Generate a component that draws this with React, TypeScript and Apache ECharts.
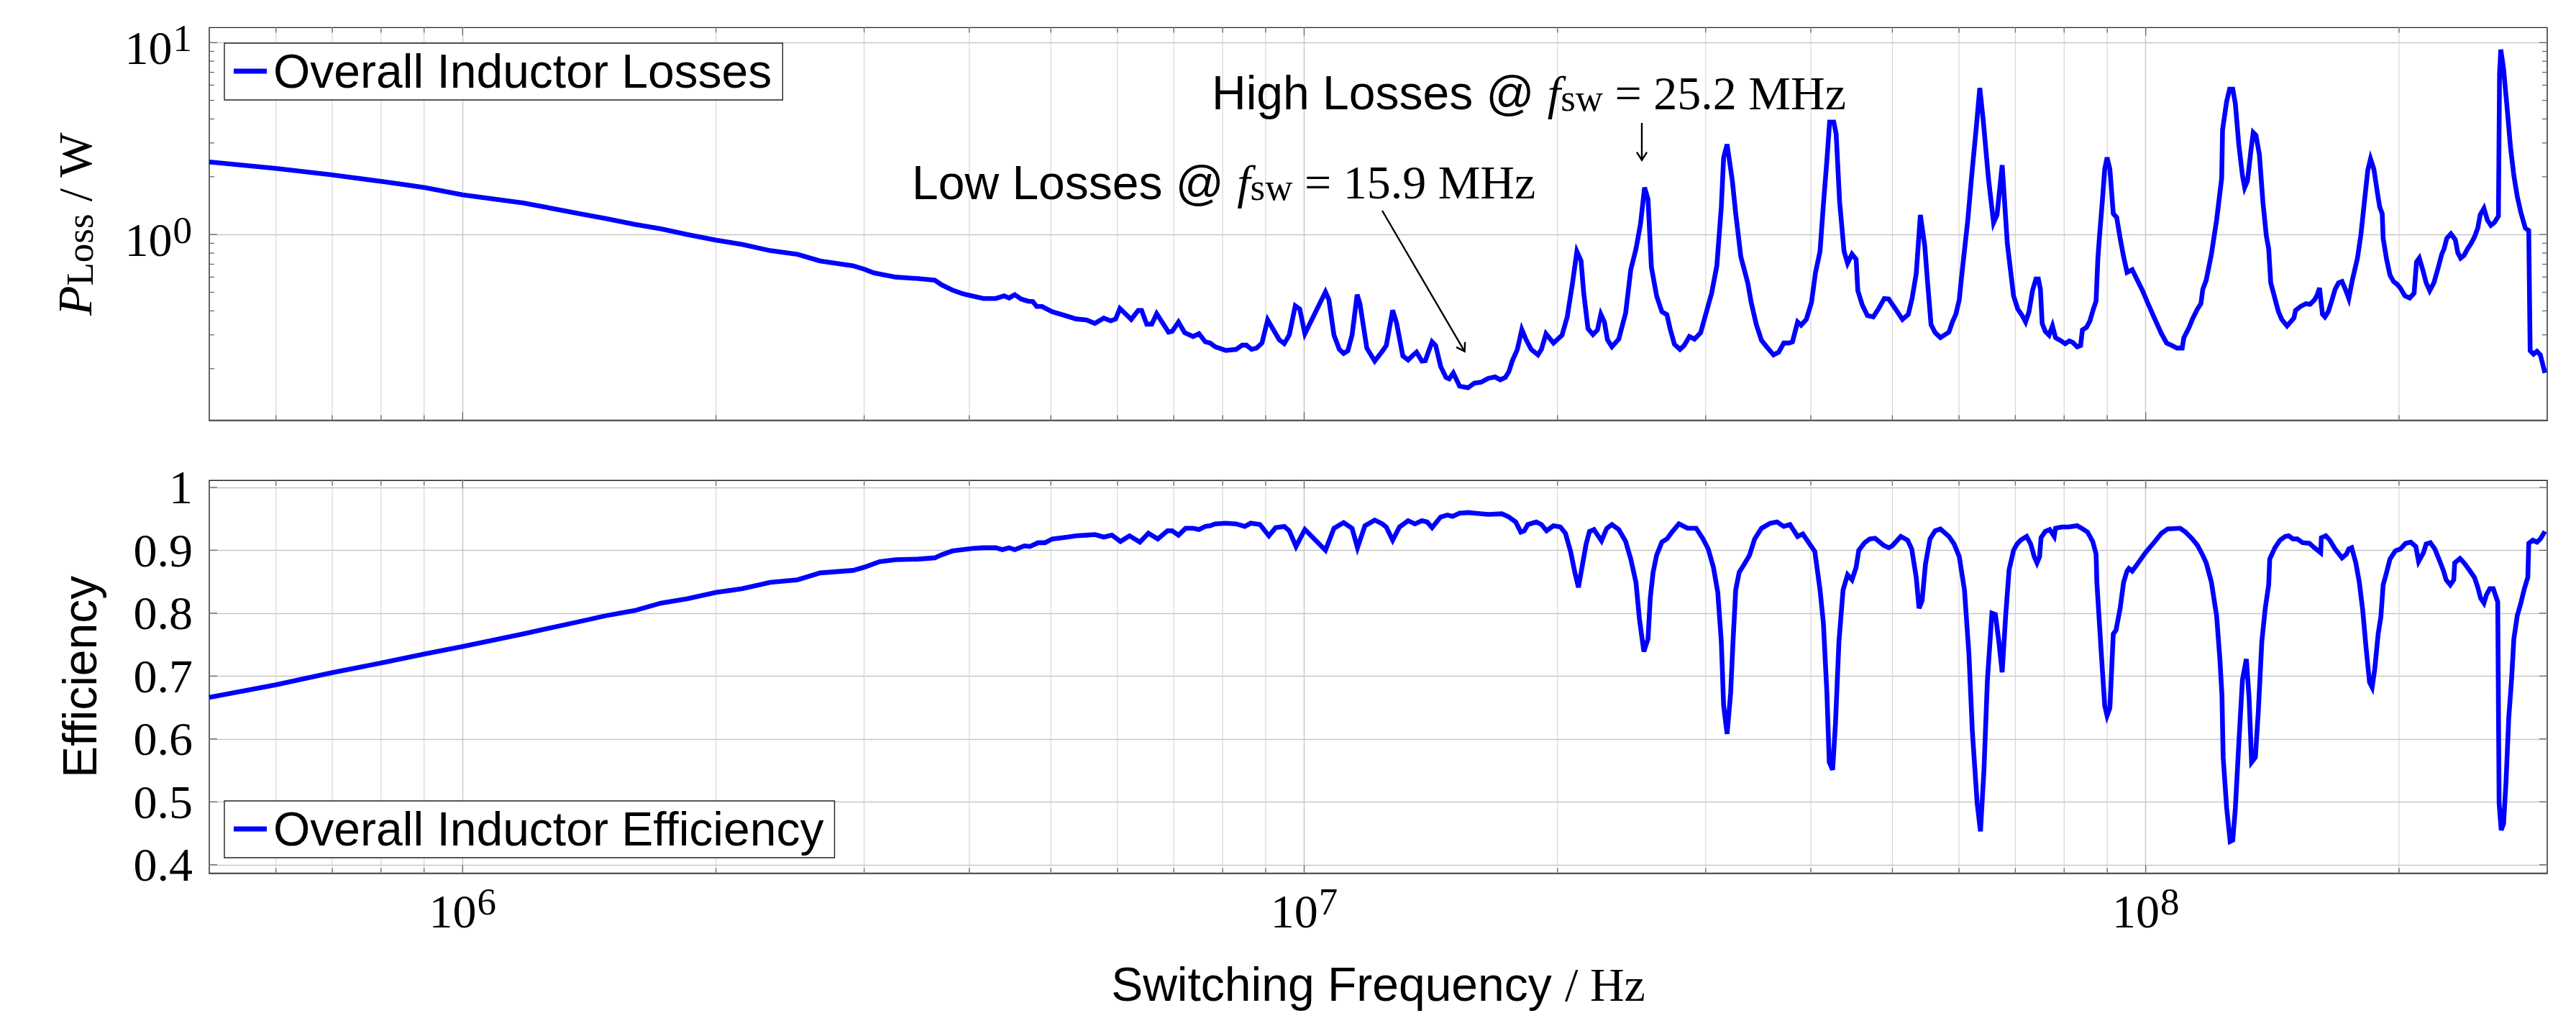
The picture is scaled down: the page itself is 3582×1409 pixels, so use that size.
import React, { useEffect, useRef } from 'react';
import * as echarts from 'echarts';

const SANS = '"Liberation Sans", Arial, Helvetica, sans-serif';
const SERIF = '"Liberation Serif", "Times New Roman", serif';

// ---------------- data (frequency in MHz) ----------------
const lossData: [number, number][] = [
  [0.500,2.39],[0.600,2.21],[0.697,2.05],[0.809,1.88],[0.900,1.76],[1.00,1.61],[1.18,1.46],[1.37,1.29],[1.48,1.21],[1.60,1.13],
  [1.72,1.07],[1.85,1.00],[2.00,0.934],[2.15,0.888],[2.32,0.824],[2.50,0.788],[2.66,0.728],[2.91,0.687],[3.00,0.66],[3.08,0.631],
  [3.27,0.600],[3.48,0.589],[3.64,0.578],[3.71,0.546],[3.82,0.513],[3.93,0.491],[4.00,0.482],[4.16,0.464],[4.30,0.464],[4.40,0.479],
  [4.46,0.467],[4.53,0.486],[4.61,0.461],[4.70,0.449],[4.76,0.447],[4.81,0.422],[4.88,0.422],[5.02,0.396],[5.16,0.382],[5.36,0.363],
  [5.51,0.359],[5.64,0.344],[5.78,0.367],[5.89,0.355],[5.97,0.363],[6.04,0.412],[6.23,0.361],[6.35,0.402],[6.41,0.402],[6.50,0.341],
  [6.59,0.341],[6.68,0.387],[6.90,0.310],[6.97,0.313],[7.09,0.350],[7.21,0.308],[7.38,0.294],[7.50,0.304],[7.63,0.276],[7.73,0.272],
  [7.84,0.260],[8.07,0.249],[8.30,0.252],[8.44,0.265],[8.54,0.265],[8.66,0.252],[8.78,0.256],[8.91,0.272],[9.05,0.359],[9.34,0.283],
  [9.47,0.270],[9.60,0.299],[9.76,0.425],[9.88,0.409],[10.02,0.304],[10.60,0.502],[10.70,0.457],[10.85,0.299],[11.01,0.252],[11.14,0.240],
  [11.27,0.248],[11.40,0.299],[11.56,0.486],[11.65,0.435],[11.87,0.256],[12.13,0.219],[12.38,0.246],[12.52,0.264],[12.74,0.403],[12.88,0.344],
  [13.10,0.233],[13.29,0.222],[13.48,0.236],[13.60,0.244],[13.80,0.219],[13.93,0.220],[14.19,0.276],[14.33,0.264],[14.53,0.205],[14.74,0.180],
  [14.87,0.177],[15.04,0.190],[15.30,0.162],[15.66,0.159],[15.93,0.168],[16.23,0.170],[16.54,0.178],[16.86,0.181],[17.10,0.175],[17.34,0.180],
  [17.51,0.193],[17.67,0.219],[17.92,0.252],[18.14,0.320],[18.34,0.285],[18.61,0.252],[18.96,0.236],[19.14,0.252],[19.38,0.304],[19.78,0.272],
  [20.25,0.299],[20.54,0.372],[20.83,0.551],[21.09,0.816],[21.33,0.731],[21.49,0.494],[21.74,0.323],[22.04,0.301],[22.31,0.318],[22.52,0.384],
  [22.74,0.350],[22.93,0.283],[23.21,0.260],[23.65,0.285],[24.10,0.390],[24.44,0.655],[24.79,0.841],[25.10,1.134],[25.38,1.758],[25.62,1.527],
  [25.86,0.676],[26.23,0.479],[26.61,0.396],[26.98,0.382],[27.24,0.318],[27.54,0.268],[27.96,0.252],[28.28,0.264],[28.69,0.294],[29.09,0.285],
  [29.59,0.308],[29.92,0.367],[30.49,0.494],[30.93,0.687],[31.31,1.390],[31.51,2.52],[31.81,2.95],[32.27,1.902],[32.57,1.285],[33.03,0.766],
  [33.66,0.560],[33.98,0.442],[34.46,0.339],[34.95,0.281],[35.45,0.260],[36.12,0.236],[36.64,0.244],[37.15,0.272],[37.68,0.272],[38.04,0.276],
  [38.58,0.350],[38.95,0.337],[39.51,0.361],[40.07,0.442],[40.52,0.635],[41.02,0.816],[41.40,1.434],[41.80,2.44],[42.11,3.85],[42.59,3.85],
  [42.87,3.35],[43.28,1.480],[43.81,0.816],[44.23,0.708],[44.77,0.790],[45.28,0.742],[45.49,0.510],[46.05,0.429],[46.70,0.378],[47.45,0.372],
  [48.12,0.409],[48.90,0.464],[49.50,0.461],[50.44,0.409],[51.40,0.361],[52.23,0.384],[52.77,0.464],[53.37,0.625],[53.98,1.265],[54.64,0.868],
  [55.06,0.560],[55.58,0.339],[56.21,0.308],[57.02,0.290],[58.37,0.310],[58.92,0.350],[59.48,0.384],[60.04,0.457],[60.50,0.635],[61.46,1.188],
  [62.16,2.09],[62.92,3.67],[63.51,5.80],[64.12,3.91],[65.03,1.963],[65.95,1.152],[66.58,1.265],[67.52,2.30],[68.48,0.896],[69.66,0.479],
  [70.46,0.409],[71.32,0.378],[71.99,0.350],[72.67,0.396],[73.36,0.510],[74.06,0.587],[74.55,0.587],[74.97,0.518],[75.33,0.344],[75.97,0.313],
  [76.76,0.299],[77.48,0.334],[78.13,0.290],[79.10,0.281],[80.22,0.270],[81.13,0.279],[81.90,0.274],[82.91,0.260],[83.69,0.264],[84.09,0.318],
  [85.04,0.328],[85.85,0.355],[86.66,0.409],[87.30,0.449],[87.72,0.742],[88.13,0.984],[88.80,1.480],[89.39,2.19],[89.97,2.52],[90.66,2.19],
  [91.51,1.285],[92.37,1.226],[93.25,0.954],[94.13,0.766],[95.02,0.635],[96.38,0.655],[97.75,0.578],[99.13,0.510],[100.5,0.442],[102.4,0.367],
  [104.4,0.304],[105.9,0.272],[107.4,0.264],[108.9,0.256],[110.5,0.256],[111.0,0.290],[112.6,0.328],[113.6,0.361],[115.2,0.409],[116.3,0.436],
  [116.9,0.518],[118.0,0.578],[119.7,0.790],[121.4,1.188],[123.1,1.963],[123.4,3.51],[124.8,4.95],[125.8,5.72],[126.9,5.72],[127.8,4.80],
  [129.0,2.95],[130.3,2.03],[131.1,1.758],[132.1,1.902],[133.4,2.77],[134.2,3.40],[135.2,3.29],[136.5,2.60],[137.8,1.480],[139.1,0.984],
  [140.0,0.841],[140.8,0.560],[142.4,0.464],[143.8,0.396],[145.1,0.361],[147.2,0.334],[148.6,0.350],[150.0,0.367],[150.7,0.403],[152.8,0.422],
  [155.0,0.436],[156.8,0.433],[158.7,0.457],[159.7,0.479],[160.9,0.526],[162.2,0.384],[163.3,0.372],[164.8,0.396],[166.3,0.449],[167.9,0.518],
  [169.5,0.560],[171.1,0.569],[172.7,0.518],[174.3,0.464],[176.0,0.578],[178.5,0.754],[180.2,1.0],[181.9,1.480],[183.6,2.16],[185.0,2.48],
  [186.7,2.19],[188.5,1.652],[189.7,1.390],[191.0,1.285],[191.5,0.954],[193.3,0.742],[195.1,0.615],[197.0,0.569],[198.9,0.551],[200.7,0.526],
  [203.2,0.479],[205.9,0.467],[208.4,0.494],[209.8,0.719],[211.4,0.754],[213.4,0.655],[215.4,0.560],[217.5,0.510],[220.0,0.560],[222.7,0.676],
  [224.8,0.790],[226.2,0.841],[227.9,0.954],[230.5,1.009],[233.3,0.939],[234.9,0.803],[236.7,0.754],[238.9,0.778],[241.2,0.841],[243.5,0.896],
  [245.8,0.969],[248.1,1.081],[249.7,1.265],[252.3,1.368],[254.7,1.188],[257.1,1.116],[259.5,1.152],[262.5,1.245],[263.3,6.88],[264.2,9.2],
  [266.2,7.32],[268.8,4.58],[271.3,2.86],[273.8,2.03],[276.4,1.576],[279.1,1.305],[282.5,1.081],[285.2,1.048],[286.3,0.248],[289.0,0.238],
  [291.7,0.246],[294.4,0.236],[298.1,0.190],
];

const effData: [number, number][] = [
  [0.500,0.666],[0.600,0.686],[0.697,0.705],[0.809,0.722],[0.900,0.735],[1.00,0.747],[1.18,0.767],[1.37,0.786],[1.48,0.796],[1.60,0.804],
  [1.72,0.816],[1.85,0.823],[2.00,0.833],[2.15,0.839],[2.32,0.849],[2.50,0.853],[2.66,0.864],[2.91,0.868],[3.00,0.873],[3.13,0.882],
  [3.27,0.885],[3.48,0.886],[3.64,0.888],[3.71,0.893],[3.82,0.899],[3.93,0.901],[4.04,0.903],[4.16,0.904],[4.30,0.904],[4.38,0.901],
  [4.46,0.904],[4.53,0.901],[4.65,0.907],[4.72,0.906],[4.83,0.912],[4.92,0.912],[5.02,0.918],[5.16,0.920],[5.36,0.923],[5.51,0.924],
  [5.64,0.925],[5.78,0.921],[5.91,0.924],[6.05,0.914],[6.20,0.923],[6.38,0.913],[6.53,0.927],[6.70,0.918],[6.88,0.931],[6.97,0.931],
  [7.09,0.924],[7.23,0.935],[7.38,0.935],[7.50,0.933],[7.63,0.938],[7.73,0.939],[7.84,0.942],[8.07,0.943],[8.30,0.942],[8.50,0.938],
  [8.64,0.943],[8.86,0.941],[9.08,0.923],[9.25,0.936],[9.47,0.938],[9.60,0.931],[9.78,0.906],[10.02,0.933],[10.60,0.900],[10.85,0.935],
  [11.14,0.944],[11.40,0.935],[11.57,0.904],[11.81,0.939],[12.13,0.948],[12.38,0.942],[12.52,0.937],[12.74,0.916],[12.98,0.937],[13.29,0.947],
  [13.54,0.942],[13.80,0.947],[14.00,0.945],[14.19,0.936],[14.53,0.953],[14.80,0.956],[15.01,0.954],[15.30,0.959],[15.66,0.960],[15.93,0.959],
  [16.54,0.957],[17.18,0.958],[17.51,0.953],[17.84,0.945],[18.09,0.929],[18.26,0.931],[18.44,0.941],[18.87,0.945],[19.14,0.941],[19.41,0.931],
  [19.78,0.939],[20.16,0.937],[20.44,0.927],[20.73,0.898],[20.97,0.865],[21.18,0.841],[21.42,0.878],[21.63,0.910],[21.83,0.930],[22.10,0.933],
  [22.56,0.915],[22.89,0.935],[23.21,0.941],[23.65,0.933],[24.10,0.914],[24.44,0.886],[24.79,0.849],[25.02,0.792],[25.33,0.739],[25.62,0.759],
  [25.78,0.824],[25.98,0.865],[26.23,0.892],[26.61,0.913],[26.98,0.918],[27.36,0.929],[27.88,0.942],[28.55,0.935],[29.23,0.935],[29.79,0.918],
  [30.21,0.902],[30.64,0.873],[31.01,0.833],[31.31,0.755],[31.51,0.653],[31.81,0.608],[32.12,0.673],[32.33,0.755],[32.57,0.837],[32.88,0.865],
  [33.34,0.878],[33.82,0.892],[34.30,0.918],[34.95,0.935],[35.78,0.943],[36.46,0.945],[37.15,0.938],[37.78,0.941],[38.58,0.922],[39.13,0.926],
  [39.87,0.910],[40.44,0.898],[41.02,0.837],[41.40,0.784],[41.80,0.673],[42.07,0.563],[42.46,0.551],[42.79,0.624],[43.20,0.755],[43.69,0.837],
  [44.23,0.861],[44.77,0.853],[45.28,0.873],[45.61,0.900],[46.34,0.912],[47.00,0.918],[47.68,0.919],[48.81,0.908],[49.50,0.904],[49.97,0.907],
  [51.16,0.922],[52.13,0.916],[52.72,0.902],[53.37,0.857],[53.78,0.808],[54.24,0.820],[54.74,0.878],[55.42,0.918],[56.21,0.931],[57.02,0.934],
  [58.37,0.922],[59.20,0.910],[60.04,0.890],[60.90,0.837],[61.65,0.735],[62.23,0.612],[63.05,0.498],[63.63,0.453],[64.24,0.551],[64.85,0.694],
  [65.65,0.800],[66.28,0.798],[66.91,0.755],[67.52,0.706],[68.17,0.796],[68.81,0.869],[69.66,0.900],[70.33,0.910],[71.00,0.916],[72.20,0.922],
  [73.00,0.910],[73.70,0.890],[74.27,0.880],[74.80,0.890],[75.10,0.920],[75.97,0.930],[76.90,0.933],[77.85,0.922],[78.13,0.935],[79.46,0.937],
  [80.97,0.937],[82.91,0.939],[83.92,0.935],[85.28,0.929],[86.50,0.914],[87.30,0.894],[87.49,0.849],[88.57,0.735],[89.39,0.653],[89.97,0.637],
  [90.66,0.649],[91.51,0.767],[92.20,0.773],[93.25,0.808],[94.13,0.849],[95.02,0.867],[95.50,0.871],[96.38,0.867],[97.75,0.878],[99.90,0.896],
  [102.4,0.913],[104.4,0.927],[106.2,0.934],[109.9,0.935],[111.5,0.929],[113.6,0.918],[115.2,0.908],[116.7,0.894],[118.0,0.880],[119.7,0.849],
  [121.4,0.796],[122.5,0.727],[123.2,0.669],[123.6,0.571],[124.8,0.490],[126.0,0.437],[126.9,0.439],[127.8,0.490],[129.0,0.592],[130.3,0.694],
  [131.7,0.727],[132.7,0.665],[133.6,0.563],[135.0,0.571],[136.1,0.645],[137.4,0.755],[138.7,0.808],[140.0,0.845],[140.4,0.886],[142.4,0.904],
  [144.4,0.916],[146.5,0.922],[147.9,0.923],[149.6,0.918],[151.4,0.918],[153.6,0.912],[156.5,0.911],[158.7,0.904],[161.4,0.896],[161.7,0.920],
  [163.7,0.923],[165.5,0.916],[167.9,0.902],[171.1,0.888],[173.2,0.894],[174.3,0.902],[175.7,0.904],[177.7,0.880],[179.4,0.849],[181.1,0.804],
  [182.8,0.743],[184.5,0.690],[185.8,0.682],[187.1,0.710],[188.9,0.767],[190.3,0.794],[191.5,0.845],[193.3,0.865],[195.1,0.886],[198.0,0.899],
  [200.7,0.902],[203.6,0.911],[206.5,0.913],[209.4,0.906],[211.0,0.882],[213.8,0.896],[215.4,0.910],[217.9,0.912],[220.6,0.902],[223.7,0.882],
  [225.9,0.867],[227.5,0.853],[230.1,0.845],[232.3,0.853],[232.9,0.880],[236.3,0.887],[238.9,0.880],[242.3,0.869],[245.8,0.857],[248.1,0.841],
  [250.0,0.824],[252.3,0.816],[254.0,0.829],[256.4,0.839],[258.8,0.839],[262.0,0.818],[262.5,0.653],[263.0,0.498],[264.5,0.455],[266.2,0.465],
  [268.0,0.531],[270.0,0.633],[272.1,0.694],[273.8,0.759],[276.4,0.796],[279.1,0.816],[281.8,0.839],[284.5,0.857],[285.2,0.911],[288.4,0.916],
  [291.7,0.913],[294.4,0.918],[298.1,0.930],
];

// axis ranges and tick positions
const X_RANGE = [5e5, 3e8];
const LOSS_RANGE = [0.1078, 11.97];
const EFF_RANGE = [0.3867, 1.011];
const xMajorFreqs = [1e6, 1e7, 1e8];
const xMinorFreqs = [6e5, 7e5, 8e5, 9e5, 2e6, 3e6, 4e6, 5e6, 6e6, 7e6, 8e6, 9e6, 2e7, 3e7, 4e7, 5e7, 6e7, 7e7, 8e7, 9e7, 2e8];
const lossMajorTicks = [1, 10];
const lossMinorTicks = [0.2, 0.3, 0.4, 0.5, 0.6, 0.7, 0.8, 0.9, 2, 3, 4, 5, 6, 7, 8, 9];
const effTicks = [0.4, 0.5, 0.6, 0.7, 0.8, 0.9, 1.0];

const LEGEND_LOSS = 'Overall Inductor Losses';
const LEGEND_EFF = 'Overall Inductor Efficiency';

const BLUE = '#0000ff';
const LINE_W = 6.6;
const MAJOR_GRID = '#c6c6c6';
const MINOR_GRID = '#d3d3d3';
const TICK = '#6a6a6a';

const powRich = {
  b: { fontFamily: SERIF, fontSize: 66, lineHeight: 66, color: '#000', padding: [14, 0, 0, 0] },
  s: { fontFamily: SERIF, fontSize: 53, lineHeight: 54, color: '#000', verticalAlign: 'top', padding: [0, 0, 0, 1] },
};
const powLabel = (v: number) => {
  const e = Math.log10(v);
  const r = Math.round(e);
  if (Math.abs(e - r) > 1e-6) return '';
  return `{b|10}{s|${r}}`;
};

function makeXGrid(idx: number, yr: number[]) {
  return {
    type: 'custom', xAxisIndex: idx, yAxisIndex: idx, silent: true, z: 1,
    data: [...xMajorFreqs.map((f) => [f, yr[0], 1]), ...xMinorFreqs.map((f) => [f, yr[0], 0])],
    encode: { x: 0, y: 1 },
    renderItem: (params: any, api: any) => {
      const f = api.value(0);
      const major = api.value(2) === 1;
      const top = api.coord([f, yr[1]]);
      const bot = api.coord([f, yr[0]]);
      const len = major ? 11 : 7;
      const children: any[] = [];
      if (!major) {
        children.push({ type: 'line', shape: { x1: top[0], y1: top[1], x2: bot[0], y2: bot[1] }, style: { stroke: MINOR_GRID, lineWidth: 1.1 } });
      }
      children.push({ type: 'line', shape: { x1: top[0], y1: top[1], x2: top[0], y2: top[1] + len }, style: { stroke: TICK, lineWidth: 1.3 } });
      children.push({ type: 'line', shape: { x1: bot[0], y1: bot[1] - len, x2: bot[0], y2: bot[1] }, style: { stroke: TICK, lineWidth: 1.3 } });
      return { type: 'group', children };
    },
  };
}

function makeYTicks(idx: number, majors: number[], minors: number[]) {
  return {
    type: 'custom', xAxisIndex: idx, yAxisIndex: idx, silent: true, z: 1,
    data: [...majors.map((v) => [X_RANGE[0], v, 1]), ...minors.map((v) => [X_RANGE[0], v, 0])],
    encode: { x: 0, y: 1 },
    renderItem: (params: any, api: any) => {
      const v = api.value(1);
      const major = api.value(2) === 1;
      const l = api.coord([X_RANGE[0], v]);
      const r = api.coord([X_RANGE[1], v]);
      const len = major ? 11 : 7;
      return {
        type: 'group',
        children: [
          { type: 'line', shape: { x1: l[0], y1: l[1], x2: l[0] + len, y2: l[1] }, style: { stroke: TICK, lineWidth: 1.3 } },
          { type: 'line', shape: { x1: r[0] - len, y1: r[1], x2: r[0], y2: r[1] }, style: { stroke: TICK, lineWidth: 1.3 } },
        ],
      };
    },
  };
}

function arrow(x1: number, y1: number, x2: number, y2: number) {
  const dx = x2 - x1, dy = y2 - y1;
  const L = Math.hypot(dx, dy);
  const ux = dx / L, uy = dy / L;
  const hl = 11, hw = 7;
  return [
    { type: 'line', shape: { x1, y1, x2, y2 }, style: { stroke: '#000', lineWidth: 2.4 }, z: 50 },
    {
      type: 'polyline', z: 50,
      shape: { points: [[x2 - hl * ux - hw * uy, y2 - hl * uy + hw * ux], [x2, y2], [x2 - hl * ux + hw * uy, y2 - hl * uy - hw * ux]] },
      style: { stroke: '#000', lineWidth: 2.4, fill: 'none' },
    },
  ];
}

const annRich = {
  t: { fontFamily: SANS, fontSize: 66, lineHeight: 66 },
  i: { fontFamily: SERIF, fontStyle: 'italic', fontSize: 66, lineHeight: 66 },
  sub: { fontFamily: SERIF, fontSize: 53, lineHeight: 38, verticalAlign: 'bottom' },
  m: { fontFamily: SERIF, fontSize: 66, lineHeight: 66 },
};

const legendCommon = {
  selectedMode: false,
  backgroundColor: '#fff',
  borderColor: '#222',
  borderWidth: 1.4,
  borderRadius: 0,
  padding: [6, 15, 7, 13],
  icon: 'rect',
  itemWidth: 46,
  itemHeight: 7,
  itemStyle: { color: BLUE, borderWidth: 0 },
  textStyle: { fontFamily: SANS, fontSize: 66, lineHeight: 66, color: '#000', padding: [0, 0, 0, 4] },
};

const xAxisCommon = {
  type: 'log',
  logBase: 10,
  min: X_RANGE[0],
  max: X_RANGE[1],
  axisTick: { show: false },
  axisLine: { show: true, onZero: false, lineStyle: { color: '#555', width: 2.2 } },
  splitLine: { show: true, showMinLine: false, showMaxLine: false, interval: 0, lineStyle: { color: MAJOR_GRID, width: 1.4 } },
  minorSplitLine: { show: false },
};

const option: any = {
  animation: false,
  backgroundColor: '#fff',
  grid: [
    { left: 291, width: 3251, top: 38.4, height: 546, show: true, borderColor: '#222', borderWidth: 1.4, backgroundColor: 'transparent', outerBoundsMode: 'none', containLabel: false },
    { left: 291, width: 3251, top: 668.3, height: 546.1, show: true, borderColor: '#222', borderWidth: 1.4, backgroundColor: 'transparent', outerBoundsMode: 'none', containLabel: false },
  ],
  legend: [
    { ...legendCommon, data: [LEGEND_LOSS], left: 312, top: 60 },
    { ...legendCommon, data: [LEGEND_EFF], left: 312, top: 1114 },
  ],
  xAxis: [
    { ...xAxisCommon, gridIndex: 0, axisLabel: { show: false } },
    {
      ...xAxisCommon,
      gridIndex: 1,
      axisLabel: { show: true, interval: 0, margin: 13, showMinLabel: false, showMaxLabel: false, formatter: powLabel, rich: powRich },
      name: '{a|Switching Frequency }{m|/ Hz}',
      nameLocation: 'middle',
      nameGap: 122,
      nameMoveOverlap: false,
      nameTextStyle: {
        color: '#000',
        rich: {
          a: { fontFamily: SANS, fontSize: 66, lineHeight: 66, color: '#000' },
          m: { fontFamily: SERIF, fontSize: 66, lineHeight: 66, color: '#000' },
        },
      },
    },
  ],
  yAxis: [
    {
      type: 'log', logBase: 10, gridIndex: 0, min: LOSS_RANGE[0], max: LOSS_RANGE[1],
      axisTick: { show: false },
      axisLine: { show: false },
      axisLabel: { show: true, interval: 0, margin: 24, showMinLabel: false, showMaxLabel: false, formatter: powLabel, rich: powRich },
      splitLine: { show: true, showMinLine: false, showMaxLine: false, interval: 0, lineStyle: { color: MAJOR_GRID, width: 1.4 } },
      name: '{p|P}{sub|Loss}{r| / W}',
      nameLocation: 'middle',
      nameRotate: 90,
      nameGap: 154,
      nameMoveOverlap: false,
      nameTextStyle: {
        color: '#000',
        rich: {
          p: { fontFamily: SERIF, fontStyle: 'italic', fontSize: 68, lineHeight: 66, color: '#000' },
          sub: { fontFamily: SERIF, fontSize: 53, lineHeight: 36, verticalAlign: 'bottom', color: '#000' },
          r: { fontFamily: SERIF, fontSize: 66, lineHeight: 66, color: '#000' },
        },
      },
    },
    {
      type: 'value', gridIndex: 1, min: EFF_RANGE[0], max: EFF_RANGE[1],
      axisTick: { show: false },
      axisLine: { show: false },
      axisLabel: { show: true, interval: 0, margin: 23, showMinLabel: false, showMaxLabel: false, fontFamily: SERIF, fontSize: 66, color: '#000' },
      splitLine: { show: true, showMinLine: false, showMaxLine: false, interval: 0, lineStyle: { color: MAJOR_GRID, width: 1.4 } },
      name: 'Efficiency',
      nameLocation: 'middle',
      nameRotate: 90,
      nameGap: 147,
      nameMoveOverlap: false,
      nameTextStyle: { fontFamily: SANS, fontSize: 66, lineHeight: 66, color: '#000' },
    },
  ],
  graphic: [
    {
      type: 'text', x: 1685, y: 129, z: 50,
      style: { text: '{t|High Losses @ }{i|f}{sub|sw}{m| = 25.2 MHz}', rich: annRich, fill: '#000', align: 'left', verticalAlign: 'middle' },
    },
    {
      type: 'text', x: 1268, y: 253.6, z: 50,
      style: { text: '{t|Low Losses @ }{i|f}{sub|sw}{m| = 15.9 MHz}', rich: annRich, fill: '#000', align: 'left', verticalAlign: 'middle' },
    },
    ...arrow(1922, 293, 2036.6, 488.8),
    ...arrow(2283, 171, 2283, 222.7),
  ],
  series: [
    makeXGrid(0, LOSS_RANGE),
    makeYTicks(0, lossMajorTicks, lossMinorTicks),
    {
      name: LEGEND_LOSS, type: 'line', xAxisIndex: 0, yAxisIndex: 0, z: 3,
      symbol: 'none', showSymbol: false, smooth: false,
      lineStyle: { color: BLUE, width: LINE_W, join: 'miter', miterLimit: 4 },
      itemStyle: { color: BLUE },
      data: lossData.map(([f, p]) => [f * 1e6, p]),
    },
    makeXGrid(1, EFF_RANGE),
    makeYTicks(1, effTicks, []),
    {
      name: LEGEND_EFF, type: 'line', xAxisIndex: 1, yAxisIndex: 1, z: 3,
      symbol: 'none', showSymbol: false, smooth: false,
      lineStyle: { color: BLUE, width: LINE_W, join: 'miter', miterLimit: 4 },
      itemStyle: { color: BLUE },
      data: effData.map(([f, e]) => [f * 1e6, e]),
    },
  ],
};

export default function App() {
  const ref = useRef<HTMLDivElement>(null);
  useEffect(() => {
    document.body.style.margin = '0';
    const chart = echarts.init(ref.current as HTMLDivElement, null, { renderer: 'svg' });
    chart.setOption(option);
    return () => chart.dispose();
  }, []);
  return <div ref={ref} style={{ position: 'fixed', left: 0, top: 0, width: 3582, height: 1409, background: '#fff' }} />;
}
